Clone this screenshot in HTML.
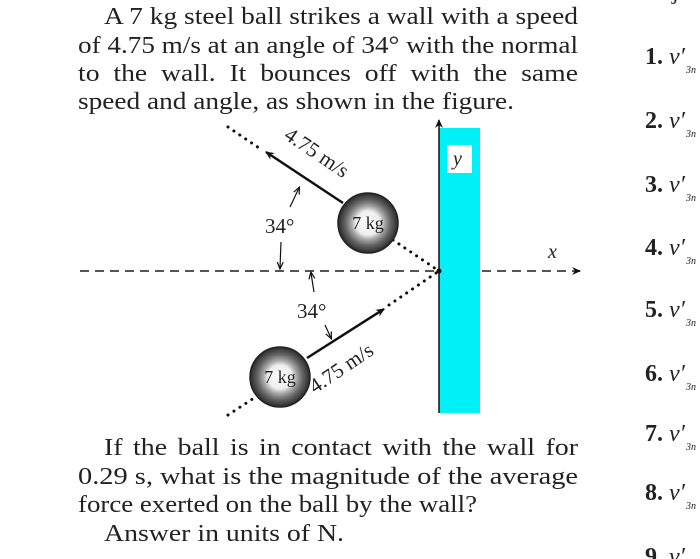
<!DOCTYPE html>
<html><head><meta charset="utf-8"><style>
html,body{margin:0;padding:0;background:#fff;width:700px;height:559px;overflow:hidden}
svg{display:block}
text{font-family:"Liberation Serif",serif;fill:#222}
</style></head><body>
<svg width="700" height="559" viewBox="0 0 700 559">
<defs>
<radialGradient id="g" cx="0.5" cy="0.5" r="0.5">
<stop offset="0" stop-color="#fff"/><stop offset="0.4" stop-color="#eee"/><stop offset="0.55" stop-color="#aaa"/><stop offset="0.75" stop-color="#666"/><stop offset="1" stop-color="#2a2a2a"/>
</radialGradient>
<marker id="a" markerWidth="10" markerHeight="10" refX="8" refY="5" orient="auto" markerUnits="userSpaceOnUse"><path d="M0,1 L9,5 L0,9 L3,5 Z" fill="#111"/></marker>
<marker id="s" markerWidth="8" markerHeight="8" refX="6" refY="4" orient="auto" markerUnits="userSpaceOnUse"><path d="M0,1 L7,4 L0,7" fill="none" stroke="#111" stroke-width="1.2"/></marker>
</defs>
<g font-size="24">
<text x="104" y="24" textLength="474" lengthAdjust="spacingAndGlyphs">A 7 kg steel ball strikes a wall with a speed</text>
<text x="78" y="53" textLength="500" lengthAdjust="spacingAndGlyphs">of 4.75 m/s at an angle of 34° with the normal</text>
<text x="78" y="81" textLength="500" lengthAdjust="spacingAndGlyphs" word-spacing="6">to the wall.  It bounces off with the same</text>
<text x="78" y="109" textLength="436" lengthAdjust="spacingAndGlyphs">speed and angle, as shown in the figure.</text>
<text x="104" y="455" textLength="474" lengthAdjust="spacingAndGlyphs" word-spacing="3">If the ball is in contact with the wall for</text>
<text x="78" y="484" textLength="500" lengthAdjust="spacingAndGlyphs">0.29 s, what is the magnitude of the average</text>
<text x="78" y="512" textLength="399" lengthAdjust="spacingAndGlyphs">force exerted on the ball by the wall?</text>
<text x="104" y="541" textLength="240" lengthAdjust="spacingAndGlyphs">Answer in units of N.</text>
<text x="648" y="-1">objects</text>
</g>
<g font-size="24">
<text x="645" y="64"><tspan font-weight="bold">1.</tspan> <tspan font-style="italic">v′</tspan></text>
<text x="645" y="128"><tspan font-weight="bold">2.</tspan> <tspan font-style="italic">v′</tspan></text>
<text x="645" y="192"><tspan font-weight="bold">3.</tspan> <tspan font-style="italic">v′</tspan></text>
<text x="645" y="255"><tspan font-weight="bold">4.</tspan> <tspan font-style="italic">v′</tspan></text>
<text x="645" y="317"><tspan font-weight="bold">5.</tspan> <tspan font-style="italic">v′</tspan></text>
<text x="645" y="381"><tspan font-weight="bold">6.</tspan> <tspan font-style="italic">v′</tspan></text>
<text x="645" y="441"><tspan font-weight="bold">7.</tspan> <tspan font-style="italic">v′</tspan></text>
<text x="645" y="500"><tspan font-weight="bold">8.</tspan> <tspan font-style="italic">v′</tspan></text>
<text x="645" y="564"><tspan font-weight="bold">9.</tspan> <tspan font-style="italic">v′</tspan></text>
</g>
<g font-size="10" font-style="italic" fill="#555">
<text x="686" y="73">3n</text><text x="686" y="137">3n</text><text x="686" y="201">3n</text><text x="686" y="264">3n</text><text x="686" y="326">3n</text><text x="686" y="390">3n</text><text x="686" y="450">3n</text><text x="686" y="509">3n</text>
</g>
<rect x="439" y="128" width="41" height="285" fill="#00f0f8"/>
<rect x="447" y="145" width="25" height="28" fill="#fff"/>
<text x="453" y="165" font-size="20" font-style="italic">y</text>
<line x1="439" y1="413" x2="439" y2="120" stroke="#111" stroke-width="1.5" marker-end="url(#a)"/>
<line x1="80" y1="271" x2="439" y2="271" stroke="#555" stroke-width="2" stroke-dasharray="9,6"/>
<line x1="482" y1="271" x2="580" y2="271" stroke="#555" stroke-width="2" stroke-dasharray="9,6" marker-end="url(#a)"/>
<text x="548" y="258" font-size="20" font-style="italic">x</text>
<circle cx="439" cy="271" r="2.5" fill="#111"/>
<g stroke="#111" stroke-width="3" stroke-dasharray="0.1,7" stroke-linecap="round">
<line x1="228" y1="127" x2="262" y2="150"/>
<line x1="393" y1="240" x2="439" y2="271"/>
<line x1="228" y1="415" x2="254" y2="398"/>
<line x1="389" y1="305" x2="439" y2="271"/>
</g>
<line x1="343" y1="203" x2="266" y2="152" stroke="#111" stroke-width="2.5" marker-end="url(#a)"/>
<line x1="307" y1="358" x2="384" y2="309" stroke="#111" stroke-width="2.5" marker-end="url(#a)"/>
<circle cx="368" cy="223" r="30" fill="url(#g)" stroke="#222" stroke-width="1.5"/>
<circle cx="280" cy="377" r="30" fill="url(#g)" stroke="#222" stroke-width="1.5"/>
<text x="368" y="229" font-size="18" text-anchor="middle">7 kg</text>
<text x="280" y="383" font-size="18" text-anchor="middle">7 kg</text>
<text font-size="21" transform="translate(283,138) rotate(34)">4.75 m/s</text>
<text font-size="21" transform="translate(315,394) rotate(-34)">4.75 m/s</text>
<text x="265" y="233" font-size="21">34°</text>
<text x="297" y="318" font-size="21">34°</text>
<line x1="290" y1="207" x2="299" y2="188" stroke="#111" stroke-width="1.2" marker-end="url(#s)"/>
<line x1="281" y1="242" x2="280" y2="268" stroke="#111" stroke-width="1.2" marker-end="url(#s)"/>
<line x1="314" y1="292" x2="311" y2="273" stroke="#111" stroke-width="1.2" marker-end="url(#s)"/>
<line x1="325" y1="325" x2="331" y2="338" stroke="#111" stroke-width="1.2" marker-end="url(#s)"/>
</svg>
</body></html>
